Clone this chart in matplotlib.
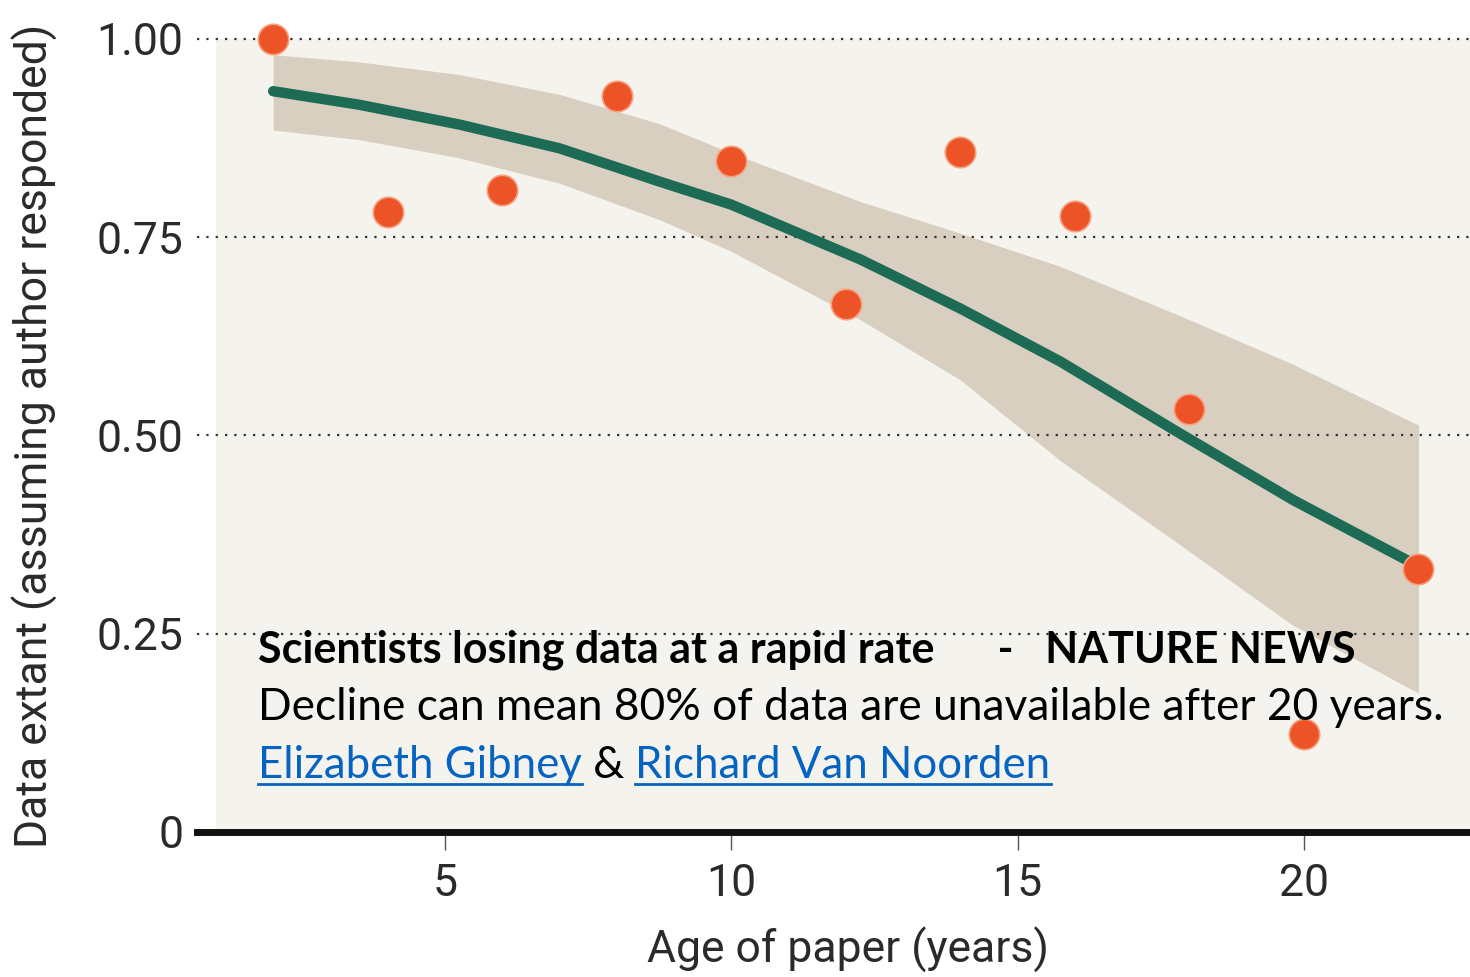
import matplotlib
matplotlib.use("Agg")
import matplotlib.pyplot as plt
from matplotlib.lines import Line2D

# data
age = [2, 4, 6, 8, 10, 12, 14, 16, 18, 20, 22]
extant = [1.00, 0.782, 0.81, 0.928, 0.846, 0.666, 0.857, 0.777, 0.533, 0.124, 0.332]

# fitted curve and its band, read at these ages
fit_age = [2, 3.5, 5.25, 7, 8.75, 10, 12.25, 14, 15.75, 17.8, 19.8, 22]
fit_mid = [0.934, 0.917, 0.892, 0.862, 0.820, 0.791, 0.722, 0.660, 0.593, 0.504, 0.419, 0.335]
fit_hi = [0.980, 0.971, 0.955, 0.930, 0.893, 0.856, 0.795, 0.755, 0.713, 0.652, 0.590, 0.513]
fit_lo = [0.885, 0.873, 0.850, 0.818, 0.772, 0.732, 0.646, 0.570, 0.468, 0.364, 0.261, 0.175]

yticks = [0, 0.25, 0.5, 0.75, 1.0]
ytick_labels = ["0", "0.25", "0.50", "0.75", "1.00"]
xticks = [5, 10, 15, 20]

title_line = "Scientists losing data at a rapid rate      -   NATURE NEWS"
sub_line = "Decline can mean 80% of data are unavailable after 20 years."
author1 = "Elizabeth Gibney"
author2 = "Richard Van Noorden"

axis_font = ["Roboto", "DejaVu Sans"]
note_font = ["Lato", "DejaVu Sans"]
ink = "#2a2a2a"

W, H = 1470, 977
fig = plt.figure(figsize=(W / 100, H / 100), dpi=100)
fig.patch.set_facecolor("white")
ax = fig.add_axes([197 / W, 145 / H, 1273 / W, 832 / H])
ax.set_xlim(0.67, 22.9)
ax.set_ylim(0, 1.049)
ax.patch.set_alpha(0)

# panel background
ax.fill_between([1.0, 22.9], 0, 1.0, color="#f4f3ed", lw=0, zorder=0)

ax.fill_between(fit_age, fit_lo, fit_hi, color="#d9cfc1", lw=0, zorder=1)
ax.hlines(yticks[1:], 0.67, 22.9, colors="#333333", linestyles=(0, (1, 3.2)),
          lw=1.6, zorder=2)
ax.plot(fit_age, fit_mid, color="#1d6b55", lw=7.5, solid_capstyle="round",
        solid_joinstyle="round", zorder=3)
ax.scatter(age, extant, s=480, color="#ec5428", edgecolor="#f7a27e", lw=1.2, zorder=4)

for s in ["top", "right", "left"]:
    ax.spines[s].set_visible(False)
ax.spines["bottom"].set_linewidth(5)
ax.spines["bottom"].set_color("#111111")

ax.set_yticks(yticks)
ax.set_yticklabels(ytick_labels)
ax.set_xticks(xticks)
ax.tick_params(axis="y", length=0, pad=10, labelsize=32, labelcolor=ink)
ax.tick_params(axis="x", length=13, width=1.0, color="#555555", pad=9,
               labelsize=32, labelcolor=ink)
for lab in ax.get_xticklabels() + ax.get_yticklabels():
    lab.set_family(axis_font)

fig.text(848 / W, 1 - 950 / H, "Age of paper (years)", ha="center", va="center",
         fontsize=32, color=ink, family=axis_font)
fig.text(35 / W, 1 - 436 / H, "Data extant (assuming author responded)", ha="center",
         va="center", rotation=90, fontsize=32, color=ink, family=axis_font)

# note block
x0 = 258 / W
fig.text(x0, 1 - 662 / H, title_line, fontsize=31, weight="bold", color="black",
         family=note_font, va="baseline")
fig.text(x0, 1 - 720 / H, sub_line, fontsize=31.9, color="black",
         family=note_font, va="baseline")

renderer = fig.canvas.get_renderer()
link_color = "#0563c1"
y3 = 1 - 778 / H
t1 = fig.text(x0, y3, author1, fontsize=31.5, color=link_color, family=note_font,
              va="baseline")
e1 = t1.get_window_extent(renderer)
t2 = fig.text(e1.x1 / W, y3, " & ", fontsize=31.5, color="black", family=note_font,
              va="baseline")
e2 = t2.get_window_extent(renderer)
t3 = fig.text(e2.x1 / W, y3, author2, fontsize=31.5, color=link_color,
              family=note_font, va="baseline")
e3 = t3.get_window_extent(renderer)
uy = 1 - 784 / H
for e in (e1, e3):
    fig.add_artist(Line2D([e.x0 / W, e.x1 / W], [uy, uy], color=link_color, lw=2,
                          transform=fig.transFigure))

fig.savefig("out.png", dpi=100)
